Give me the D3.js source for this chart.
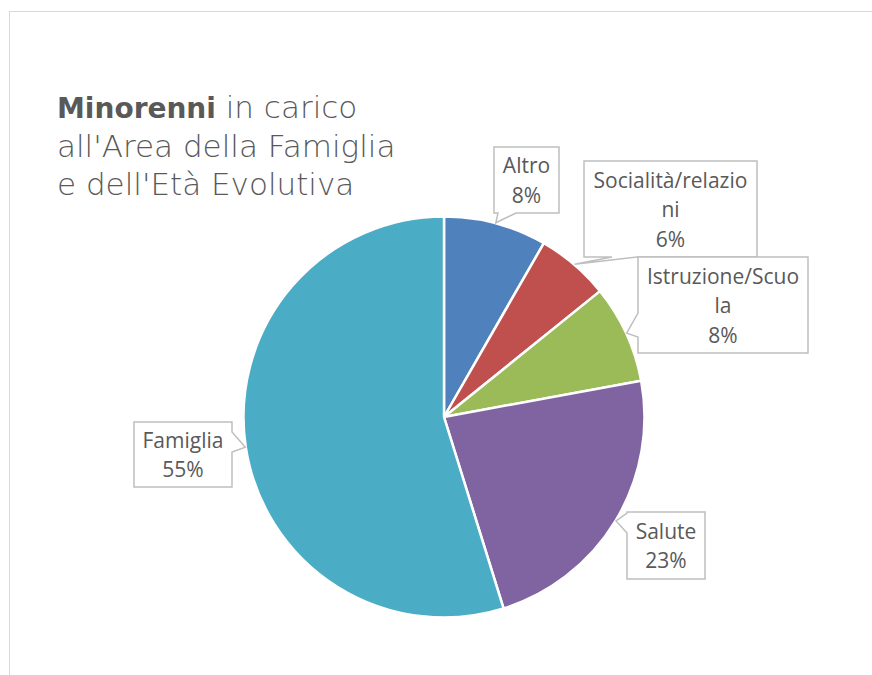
<!DOCTYPE html>
<html>
<head>
<meta charset="utf-8">
<script src="https://cdn.jsdelivr.net/npm/d3@7"></script>
<style>
  html, body { margin: 0; padding: 0; background: #fff; }
  svg { display: block; }
</style>
</head>
<body>
<div id="chart"></div>
<script>
// ---- data ----
const categories = ["Altro", "Socialità/relazioni", "Istruzione/Scuola", "Salute", "Famiglia"];
const values = [8.3, 5.9, 7.9, 23.1, 54.8];
const labelLines = [["Altro"], ["Socialità/relazio", "ni"], ["Istruzione/Scuo", "la"], ["Salute"], ["Famiglia"]];
const colors = ["#4f81bd", "#c0504d", "#9bbb59", "#8064a2", "#4bacc6"];
const titleBold = "Minorenni";
const titleLines = [" in carico", "all'Area della Famiglia", "e dell'Età Evolutiva"];

// ---- layout (callout boxes: x0,y0,x1,y1, side of pointer, pointer base range) ----
const boxes = [
  { x0: 494, y0: 147, x1: 559, y1: 213, side: "bottom", b0: 498, b1: 516 },
  { x0: 584, y0: 161, x1: 757, y1: 257, side: "bottom", b0: 612, b1: 637 },
  { x0: 638, y0: 257, x1: 808, y1: 353, side: "left", b0: 313, b1: 337 },
  { x0: 627, y0: 512, x1: 705, y1: 579, side: "left", b0: 513, b1: 533 },
  { x0: 134, y0: 422, x1: 232, y1: 487, side: "right", b0: 432, b1: 452 }
];

const W = 872, H = 675;
const cx = 444, cy = 417, R = 200.5;

const svg = d3.select("#chart").append("svg").attr("width", W).attr("height", H);

// frame
svg.append("rect").attr("x", 9.5).attr("y", 11.5).attr("width", 900).attr("height", 700)
  .attr("fill", "#fff").attr("stroke", "#d9d9d9").attr("stroke-width", 1);

// title
const title = svg.append("g").attr("font-family", "'DejaVu Sans', sans-serif")
  .attr("font-size", 31).attr("fill", "#595959");
const t1 = title.append("text").attr("x", 57).attr("y", 118);
t1.append("tspan").attr("font-weight", "bold").attr("font-size", 28).text(titleBold);
t1.append("tspan").attr("font-weight", 300).text(titleLines[0]);
title.append("text").attr("x", 57).attr("y", 157).attr("font-weight", 300).text(titleLines[1]);
title.append("text").attr("x", 57).attr("y", 195).attr("font-weight", 300).text(titleLines[2]);

// pie
const pie = d3.pie().sort(null).value(d => d).startAngle(0).endAngle(2 * Math.PI);
const arcs = pie(values);
const arc = d3.arc().innerRadius(0).outerRadius(R);
const g = svg.append("g").attr("transform", `translate(${cx},${cy})`);
g.selectAll("path").data(arcs).join("path")
  .attr("d", arc)
  .attr("fill", (d, i) => colors[i])
  .attr("stroke", "#fff").attr("stroke-width", 2.5).attr("stroke-linejoin", "round");

// callouts
const fmt = d3.format(".0%");
const total = d3.sum(values);

function calloutPath(b, tip) {
  const p = d3.path();
  const { x0, y0, x1, y1, side, b0, b1 } = b;
  p.moveTo(x0, y0);
  p.lineTo(x1, y0);
  if (side === "right") { p.lineTo(x1, b0); p.lineTo(tip[0], tip[1]); p.lineTo(x1, b1); }
  p.lineTo(x1, y1);
  if (side === "bottom") { p.lineTo(b1, y1); p.lineTo(tip[0], tip[1]); p.lineTo(b0, y1); }
  p.lineTo(x0, y1);
  if (side === "left") { p.lineTo(x0, b1); p.lineTo(tip[0], tip[1]); p.lineTo(x0, b0); }
  p.closePath();
  return p.toString();
}

const lg = svg.append("g");
arcs.forEach((d, i) => {
  const mid = (d.startAngle + d.endAngle) / 2;
  const tip = [cx + (R + 0.5) * Math.sin(mid), cy - (R + 0.5) * Math.cos(mid)];
  const b = boxes[i];
  lg.append("path").attr("d", calloutPath(b, tip))
    .attr("fill", "#fff").attr("stroke", "#bfbfbf").attr("stroke-width", 1.5)
    .attr("stroke-linejoin", "miter");
  const lines = labelLines[i].concat([fmt(values[i] / total)]);
  const n = lines.length;
  const mx = (b.x0 + b.x1) / 2, my = (b.y0 + b.y1) / 2;
  const lh = 29.5;
  const txt = lg.append("text").attr("font-family", "'Open Sans', sans-serif")
    .attr("font-size", 21).attr("fill", "#595959").attr("text-anchor", "middle");
  lines.forEach((l, k) => {
    txt.append("tspan").attr("x", mx).attr("y", my + (k - (n - 1) / 2) * lh + 8).text(l);
  });
});
</script>
</body>
</html>
